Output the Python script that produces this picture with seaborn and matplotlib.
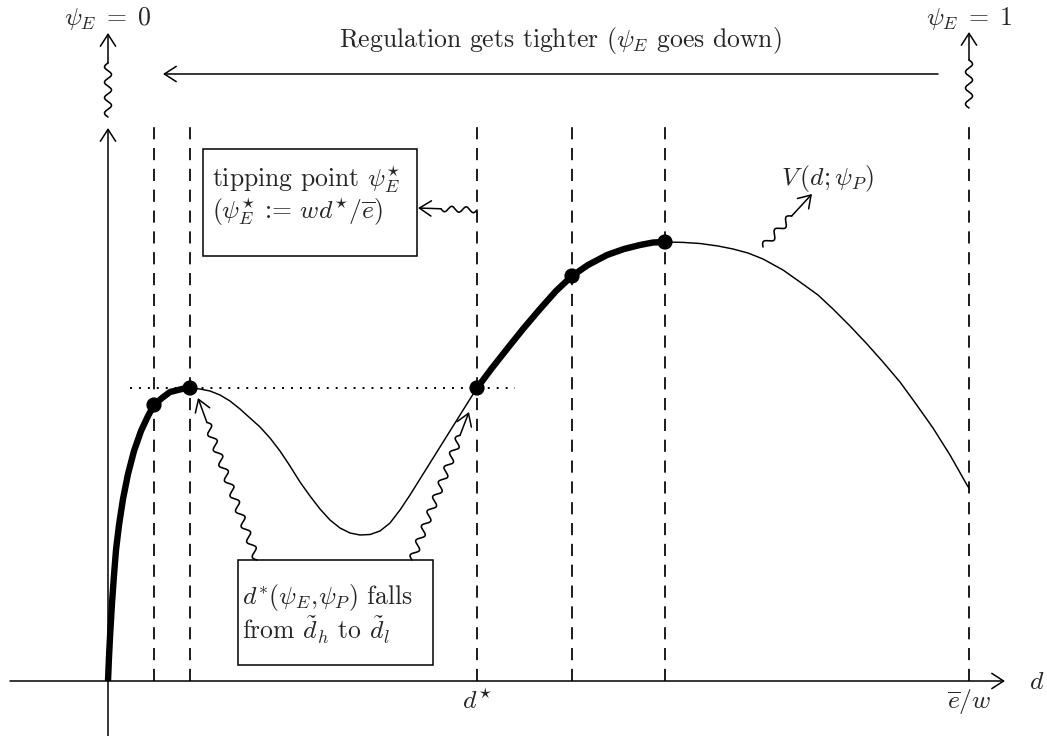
import numpy as np
import matplotlib
matplotlib.use("Agg")
import matplotlib.pyplot as plt
import seaborn as sns
import pandas as pd
from matplotlib.patches import Rectangle

sns.set_theme(style="white")
plt.rcParams["font.family"] = ["cmr10"]
plt.rcParams["mathtext.fontset"] = "cm"
plt.rcParams["axes.unicode_minus"] = False
plt.rcParams["axes.formatter.use_mathtext"] = True

# ---------------- data ----------------
curve_d = [0, 1, 2, 4, 6, 8, 11, 15, 20, 26, 33, 40, 46, 54, 62, 70, 76, 82,
           92, 102, 112, 122, 132, 142, 152, 162, 172, 182, 192, 202, 212, 222,
           232, 242, 252, 262, 272, 282, 292, 302, 312, 322, 332, 342, 352, 362,
           369, 384, 399, 415, 432, 448, 464, 480, 499, 516, 532, 545, 557,
           575, 592, 610, 625, 640, 655, 675, 692, 710, 725, 742, 759, 775, 792,
           808, 825, 842, 859, 861]
curve_v = [0, 24, 44, 78, 106, 131, 156, 182, 207, 230, 250, 265, 276, 283,
           289, 291, 292.5, 293,
           292, 290, 286, 280, 272, 263, 254, 243, 230, 215, 199, 185, 172, 161,
           153, 148, 146, 146.5, 150, 158, 171, 186, 202, 218, 234, 250, 266,
           282,
           293, 313, 332, 352, 372, 390, 405, 416, 426, 432, 436, 438.5, 439,
           438.6, 437.5, 435, 432, 428, 422, 411, 399, 386, 372, 355, 337, 319,
           299, 277, 253, 226, 196, 193]
thick_ranges = [(0, 82), (369, 557)]
dot_d = [46, 82, 369, 464, 557]
dot_v = [276, 293, 293, 405, 439]
vline_d = [46, 82, 369, 464, 557, 861]
tipping_level = 293
tick_pos = [369, 861]
tick_labels = [r"$d^{\star}$", r"$\overline{e}/w$"]
box1_text = "tipping point $\\psi_E^{\\star}$\n$(\\psi_E^{\\star}$ := $wd^{\\star}/\\overline{e})$"
box2_text = "$d^{*}(\\psi_E,\\!\\psi_P)$ falls\nfrom $\\tilde{d}_h$ to $\\tilde{d}_l$"

FS = 18.5
K = "black"

fig = plt.figure(figsize=(10.47, 7.36), dpi=100)
ax = fig.add_axes([0, 0, 1, 1])
ax.set_xlim(-108, 939)
ax.set_ylim(-55, 681)
ax.axis("off")

ARW = dict(arrowstyle="->,head_length=0.85,head_width=0.55", lw=1.1, color=K,
           shrinkA=0, shrinkB=0, mutation_scale=10)


def arrow(start, end):
    ax.annotate("", xy=end, xytext=start, arrowprops=ARW)


def snake(start, end, straight=25, amp=3.5, wl=16.0, lw=1.15):
    p0 = np.array(start, float)
    p1 = np.array(end, float)
    v = p1 - p0
    L = np.hypot(*v)
    u = v / L
    n = np.array([-u[1], u[0]])
    Lw = L - straight
    halfw = max(1, int(round(2 * Lw / wl)))
    t = np.linspace(0, Lw, 400)
    w = amp * np.sin(np.pi * halfw * t / Lw)
    pts = p0 + np.outer(t, u) + np.outer(w, n)
    ax.plot(pts[:, 0], pts[:, 1], color=K, lw=lw, solid_capstyle="round")
    arrow(tuple(pts[-1]), tuple(p1))


# axes
arrow((-98, 0), (897, 0))
arrow((0, -55), (0, 553))

# dashed vertical lines
for xd in vline_d:
    ax.plot([xd, xd], [0, 556], color=K, lw=1.25, ls=(0, (7, 5)))

# dotted level line
ax.plot([22, 407], [tipping_level, tipping_level], color=K, lw=1.4,
        ls=(0, (1, 3.6)))

# curve
df = pd.DataFrame({"d": curve_d, "V": curve_v})
sns.lineplot(data=df, x="d", y="V", sort=False, estimator=None, color=K,
             lw=1.05, ax=ax)
for a, b in thick_ranges:
    seg = df[(df.d >= a) & (df.d <= b)]
    sns.lineplot(data=seg, x="d", y="V", sort=False, estimator=None, color=K,
                 lw=4.6, ax=ax, solid_capstyle="butt", solid_joinstyle="round")
sns.scatterplot(x=dot_d, y=dot_v, s=120, color=K, edgecolor="none", ax=ax,
                zorder=5)
ax.set_xlabel("")
ax.set_ylabel("")

# top annotations
snake((0, 564), (0, 648), straight=30)
snake((861, 573), (861, 649), straight=28)
ax.text(0, 663, r"$\psi_E\;=\;0$", ha="center", va="center", fontsize=FS)
ax.text(861, 663, r"$\psi_E\;=\;1$", ha="center", va="center", fontsize=FS)
arrow((830, 607), (55, 607))
ax.text(452, 641, r"Regulation gets tighter ($\psi_E$ goes down)",
        ha="center", va="center", fontsize=FS)

# box 1
ax.add_patch(Rectangle((95, 425), 214, 107, fill=False, ec=K, lw=1.1))
ax.text(104, 485, box1_text, ha="left", va="center", fontsize=FS,
        linespacing=1.05)
snake((369, 471), (310, 473), straight=23, amp=2.8, wl=14)

# box 2
ax.add_patch(Rectangle((130, 16), 195, 105, fill=False, ec=K, lw=1.1))
ax.text(134, 67, box2_text, ha="left", va="center", fontsize=FS,
        linespacing=1.05)
snake((149, 121), (90, 283), straight=26)
snake((304, 121), (361, 269), straight=25)

# V label
ax.text(720, 503, r"$V\,(d;\psi_P)$", ha="center", va="center", fontsize=FS)
snake((655, 434), (704, 487), straight=30)

# axis labels
ax.text(929, -1, r"$d$", ha="center", va="center", fontsize=FS)
for p, lab in zip(tick_pos, tick_labels):
    ax.text(p, -20, lab, ha="center", va="center", fontsize=FS)

fig.savefig("out.png", dpi=100)
